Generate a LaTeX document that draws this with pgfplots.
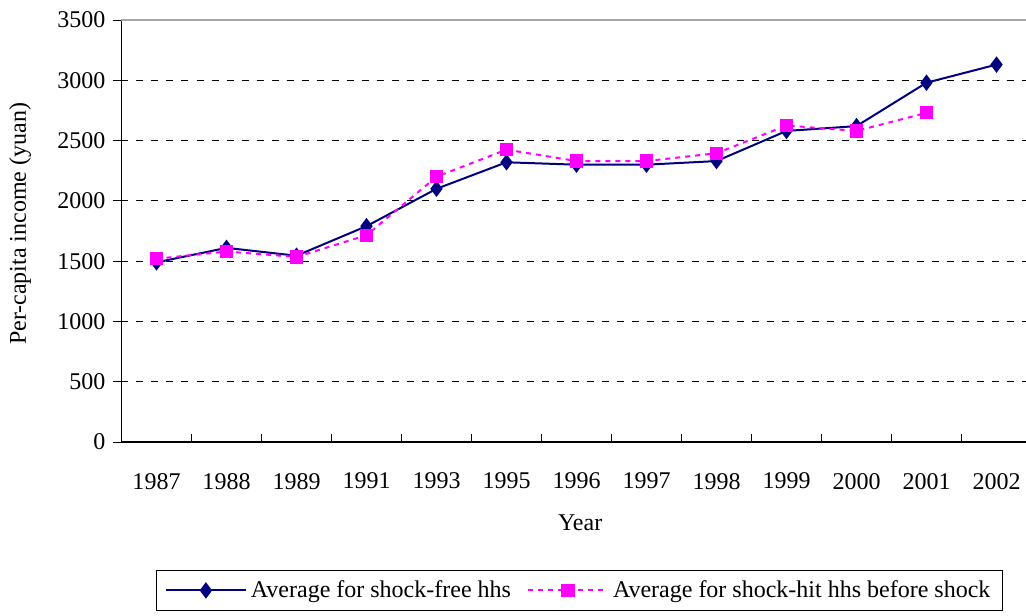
\documentclass[border=0pt]{standalone}
\usepackage{fontspec}
\setmainfont{Liberation Serif}
\usepackage{pgfplots}
\pgfplotsset{compat=1.18}
\definecolor{navyc}{RGB}{0,0,128}
\definecolor{magc}{RGB}{255,0,255}
\begin{document}
\begin{tikzpicture}
\begin{axis}[
  scale only axis,
  width=455pt, height=211pt,
  xmin=-0.5, xmax=12.5,
  ymin=0, ymax=3500,
  ytick={0,500,...,3500},
  xtick={-0.5,0.5,...,12.5},
  x tick label as interval,
  xticklabels={1987,1988,1989,1991,1993,1995,1996,1997,1998,1999,2000,2001,2002,{}},
  axis lines*=left,
  axis line style={black, line width=0.6pt},
  xtick align=inside,
  ytick align=outside,
  major tick length=4pt,
  tick style={black, line width=0.5pt},
  ymajorgrids,
  y grid style={black, dash pattern=on 3.5pt off 4pt, line width=0.5pt},
  /pgf/number format/assume math mode=true,
  /pgf/number format/1000 sep={},
  tick label style={font=\fontsize{12}{14}\selectfont},
  xticklabel style={yshift=-12pt},
  yticklabel style={xshift=-0.5pt},
  xlabel={Year},
  ylabel={Per-capita income (yuan)},
  label style={font=\fontsize{12}{14}\selectfont},
  xlabel style={at={(axis description cs:0.504,0)}, anchor=center, yshift=-40.5pt},
  ylabel style={at={(axis description cs:-0.1115,0.517)}, anchor=center},
  legend columns=2,
  legend style={at={(axis description cs:0.5035,-0.3033)}, anchor=north,
    font=\fontsize{12}{14}\selectfont, draw=black, line width=0.5pt,
    inner xsep=4pt, inner ysep=3pt, /tikz/every even column/.append style={column sep=6pt}},
  legend image code/.code={\draw[#1, mark repeat=2, mark phase=2] plot coordinates {(0pt,0pt) (20pt,0pt) (40pt,0pt)};},
  after end axis/.code={
    \draw[gray!70, line width=0.6pt] (rel axis cs:0,1) -- (rel axis cs:1,1);
    \coordinate (O) at (rel axis cs:0,0);
    \coordinate (T) at (rel axis cs:0,1);
  },
  clip=false,
]
\addplot[navyc, line width=1pt, mark=diamond*, mark size=3.3pt, mark options={solid, fill=navyc}]
coordinates {(0,1490) (1,1610) (2,1545) (3,1790) (4,2100) (5,2320) (6,2300) (7,2300) (8,2330) (9,2580) (10,2620) (11,2980) (12,3130)};
\addlegendentry{Average for shock-free hhs}
\addplot[magc, line width=1pt, dash pattern=on 2.5pt off 2.5pt, mark=square*, mark size=2.8pt, mark options={solid, fill=magc}]
coordinates {(0,1520) (1,1580) (2,1535) (3,1715) (4,2200) (5,2425) (6,2330) (7,2330) (8,2395) (9,2625) (10,2580) (11,2730)};
\addlegendentry{Average for shock-hit hhs before shock}
\end{axis}
\pgfresetboundingbox
\path ([xshift=-60.75pt,yshift=-86.5pt]O) rectangle ([xshift=452.25pt,yshift=10pt]T);
\end{tikzpicture}
\end{document}
